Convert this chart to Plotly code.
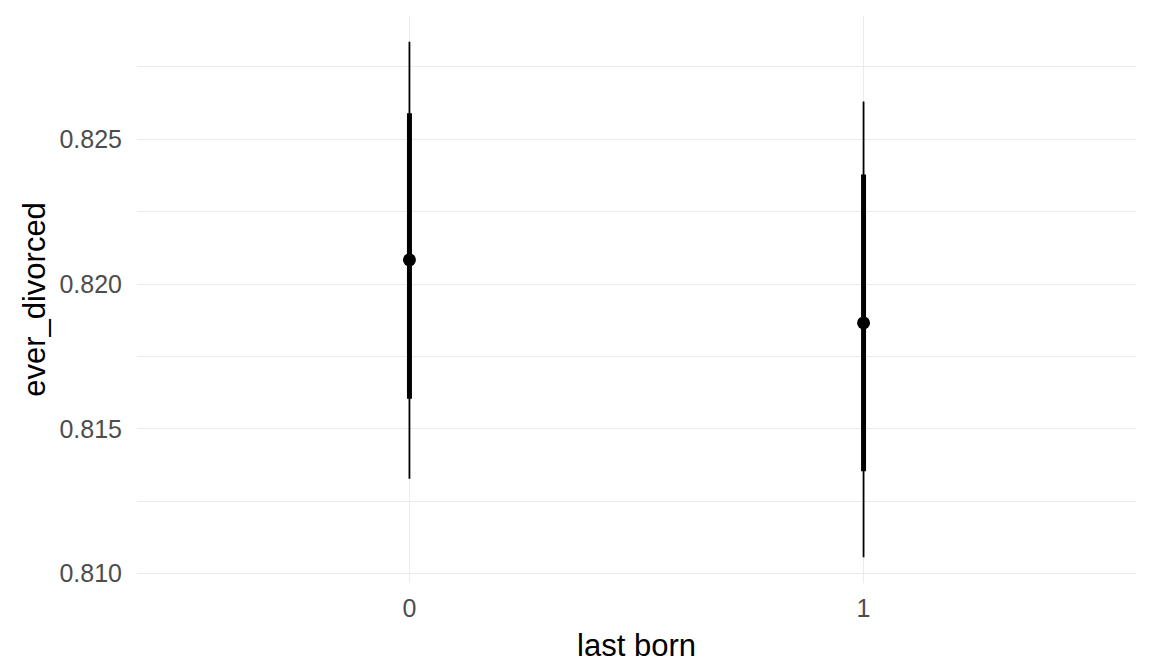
import plotly.graph_objects as go

categories = ["0", "1"]
point_est = [0.82084, 0.81866]
inner_lo = [0.81604, 0.81354]
inner_hi = [0.82590, 0.82379]
outer_lo = [0.81328, 0.81057]
outer_hi = [0.82837, 0.82631]
y_ticks = [0.810, 0.815, 0.820, 0.825]

xpos = list(range(len(categories)))

def segs(lo, hi):
    xs, ys = [], []
    for i, (a, b) in enumerate(zip(lo, hi)):
        xs += [xpos[i], xpos[i], None]
        ys += [a, b, None]
    return xs, ys

fig = go.Figure()
xs, ys = segs(outer_lo, outer_hi)
fig.add_trace(go.Scatter(x=xs, y=ys, mode="lines", line=dict(color="black", width=1.8),
                         hoverinfo="skip", showlegend=False))
xs, ys = segs(inner_lo, inner_hi)
fig.add_trace(go.Scatter(x=xs, y=ys, mode="lines", line=dict(color="black", width=5),
                         hoverinfo="skip", showlegend=False))
fig.add_trace(go.Scatter(x=xpos, y=point_est, mode="markers",
                         marker=dict(color="black", size=13), showlegend=False))

lo = min(outer_lo); hi = max(outer_hi)
pad = (hi - lo) * 0.05
grid = "#EBEBEB"
minor_vals = [(a + b) / 2 for a, b in zip(y_ticks[:-1], y_ticks[1:])] + [y_ticks[-1] + (y_ticks[1] - y_ticks[0]) / 2]

fig.update_layout(
    width=1144, height=664,
    margin=dict(l=129, r=16, t=8, b=89),
    paper_bgcolor="white", plot_bgcolor="white",
    font=dict(family="Liberation Sans, Arial, sans-serif"),
    xaxis=dict(
        range=[-0.6, len(categories) - 1 + 0.6],
        tickmode="array", tickvals=xpos, ticktext=categories,
        showgrid=True, gridcolor=grid, gridwidth=1.1, zeroline=False,
        showline=False, ticks="", ticklabelstandoff=8,
        tickfont=dict(size=25, color="#4D4D4D"),
        title=dict(text="last born", font=dict(size=31, color="black"), standoff=13),
    ),
    yaxis=dict(
        range=[lo - pad, hi + pad],
        tickmode="array", tickvals=y_ticks, ticktext=[f"{v:.3f}" for v in y_ticks],
        showgrid=True, gridcolor=grid, gridwidth=1.1, zeroline=False,
        showline=False, ticks="", ticklabelstandoff=14,
        tickfont=dict(size=25, color="#4D4D4D"),
        minor=dict(tickmode="array", tickvals=minor_vals,
                   showgrid=True, gridcolor=grid, gridwidth=0.6, ticks=""),
        title=dict(text="ever_divorced", font=dict(size=31, color="black"), standoff=4),
    ),
)

fig.write_html("out.html")
